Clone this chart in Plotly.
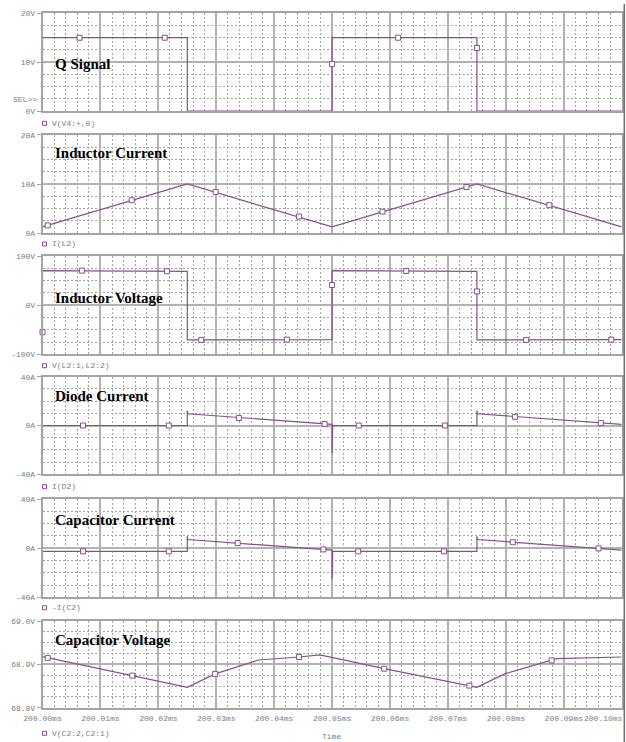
import plotly.graph_objects as go

# ---------------- waveform data (time in ms) ----------------
# Q gate signal, V(V4:+,0)
q_t = [200.000, 200.000, 200.025, 200.025, 200.050, 200.050, 200.075, 200.075, 200.100]
q_v = [6.3, 15.0, 15.0, 0.0, 0.0, 15.0, 15.0, 0.0, 0.0]
q_mark_t = [200.0064, 200.0211, 200.0500, 200.0614, 200.0750]
q_mark_v = [15.0, 15.0, 9.6, 15.0, 12.9]

# Inductor current, I(L2)
il_t = [200.000, 200.025, 200.050, 200.075, 200.100]
il_v = [1.3, 10.0, 1.3, 10.0, 1.3]
il_mark_t = [200.0009, 200.0154, 200.0299, 200.0443, 200.0587, 200.0732, 200.0875]
il_mark_v = [1.6, 6.7, 8.4, 3.4, 4.4, 9.4, 5.7]

# Inductor voltage, V(L2:1,L2:2)
vl_t = [200.000, 200.000, 200.025, 200.025, 200.050, 200.050, 200.075, 200.075, 200.100]
vl_v = [-60.0, 70.3, 68.8, -70.8, -70.2, 70.3, 68.8, -70.8, -70.2]
vl_mark_t = [200.0000, 200.0068, 200.0215, 200.0274, 200.0422, 200.0500, 200.0628,
             200.0750, 200.0835, 200.0982]
vl_mark_v = [-55.0, 70.2, 69.0, -70.7, -70.2, 41.0, 69.6, 28.0, -70.7, -70.2]

# Diode current, I(D2)
id_t = [200.000, 200.000, 200.025, 200.025, 200.0251, 200.050, 200.050, 200.0501,
        200.075, 200.075, 200.0751, 200.100]
id_v = [-22.5, 0.0, 0.0, 12.2, 9.6, 1.0, -23.0, 0.0, 0.0, 12.2, 9.6, 1.0]
id_mark_t = [200.0070, 200.0218, 200.0339, 200.0487, 200.0546, 200.0695, 200.0816, 200.0964]
id_mark_v = [0.0, 0.0, 6.2, 1.2, 0.0, 0.0, 7.1, 2.0]

# Capacitor current, -I(C2)
ic_t = [200.000, 200.000, 200.025, 200.025, 200.0251, 200.050, 200.050, 200.0501,
        200.075, 200.075, 200.0751, 200.100]
ic_v = [-25.0, -2.6, -2.6, 9.9, 7.0, -1.6, -25.0, -2.6, -2.6, 9.9, 7.0, -1.6]
ic_mark_t = [200.0070, 200.0218, 200.0337, 200.0485, 200.0545, 200.0693, 200.0812, 200.0960]
ic_mark_v = [-2.6, -2.6, 4.1, -1.0, -2.6, -2.6, 4.8, -0.2]

# Capacitor voltage, V(C2:2,C2:1)
vc_t = [200.000, 200.025, 200.0298, 200.0373, 200.0443, 200.0479, 200.0590, 200.075,
        200.0798, 200.0888, 200.100]
vc_v = [68.918, 68.847, 68.878, 68.910, 68.917, 68.922, 68.890, 68.847, 68.878, 68.913, 68.917]
vc_mark_t = [200.0009, 200.0155, 200.0298, 200.0443, 200.0590, 200.0737, 200.0879]
vc_mark_v = [68.915, 68.874, 68.878, 68.917, 68.890, 68.851, 68.909]

# time axis labels
time_ticks = [200.00, 200.01, 200.02, 200.03, 200.04, 200.05, 200.06, 200.07, 200.08, 200.09]
time_labels = ["200.00ms", "200.01ms", "200.02ms", "200.03ms", "200.04ms",
               "200.05ms", "200.06ms", "200.07ms", "200.08ms", "200.09ms"]
time_last_label = "200.10ms"

# ---------------- panel definitions ----------------
panels = [
    dict(t=q_t, v=q_v, mt=q_mark_t, mv=q_mark_v, rng=[0, 20], minor=2.5,
         tickvals=[0, 10, 20], ticktext=["0V", "10V", "20V"],
         title="Q Signal", legend="V(V4:+,0)"),
    dict(t=il_t, v=il_v, mt=il_mark_t, mv=il_mark_v, rng=[0, 20], minor=2.5,
         tickvals=[0, 10, 20], ticktext=["0A", "10A", "20A"],
         title="Inductor Current", legend="I(L2)"),
    dict(t=vl_t, v=vl_v, mt=vl_mark_t, mv=vl_mark_v, rng=[-100, 100], minor=25,
         tickvals=[-100, 0, 100], ticktext=["-100V", "0V", "100V"],
         title="Inductor Voltage", legend="V(L2:1,L2:2)"),
    dict(t=id_t, v=id_v, mt=id_mark_t, mv=id_mark_v, rng=[-40, 40], minor=10,
         tickvals=[-40, 0, 40], ticktext=["-40A", "0A", "40A"],
         title="Diode Current", legend="I(D2)"),
    dict(t=ic_t, v=ic_v, mt=ic_mark_t, mv=ic_mark_v, rng=[-40, 40], minor=10,
         tickvals=[-40, 0, 40], ticktext=["-40A", "0A", "40A"],
         title="Capacitor Current", legend="-I(C2)"),
    dict(t=vc_t, v=vc_v, mt=vc_mark_t, mv=vc_mark_v, rng=[68.8, 69.0], minor=0.025,
         tickvals=[68.8, 68.9, 69.0], ticktext=["68.8V", "68.9V", "69.0V"],
         title="Capacitor Voltage", legend="V(C2:2,C2:1)"),
]

# ---------------- page geometry (pixels) ----------------
W, H = 626, 742
PLOT_L, PLOT_R = 42.5, 621.7
# (top, bottom) of each plot frame
frames = [(13.3, 111.0), (134.7, 233.3), (256.0, 354.3),
          (376.7, 474.3), (499.0, 597.3), (621.0, 707.7)]
title_y = [63.5, 153.0, 298.0, 396.0, 520.0, 639.5]
legend_y = [123.3, 244.0, 365.7, 486.7, 607.7, 733.3]


def px_x(x):
    return x / W


def px_y(y):
    return 1 - y / H


TRACE = "#8b4d8f"
TICK_GREY = "#7c7c7c"
MAJOR = "#b2b2b2"
MINOR = "#a2a2a2"
FRAME = "#a4a4a4"
MONO = "Liberation Mono, Courier New, monospace"
SERIF = "Liberation Serif, Times New Roman, serif"

fig = go.Figure()
layout = {}
annotations = []
shapes = []

for i, p in enumerate(panels):
    n = i + 1
    xa = "x" if n == 1 else f"x{n}"
    ya = "y" if n == 1 else f"y{n}"
    xkey = "xaxis" if n == 1 else f"xaxis{n}"
    ykey = "yaxis" if n == 1 else f"yaxis{n}"
    top, bot = frames[i]

    fig.add_trace(go.Scatter(x=p["t"], y=p["v"], xaxis=xa, yaxis=ya, mode="lines",
                             line=dict(color=TRACE, width=1.2), cliponaxis=False,
                             hoverinfo="skip", showlegend=False))
    fig.add_trace(go.Scatter(x=p["mt"], y=p["mv"], xaxis=xa, yaxis=ya, mode="markers",
                             marker=dict(symbol="square", size=5, color="white",
                                         line=dict(color=TRACE, width=1)),
                             cliponaxis=False, hoverinfo="skip", showlegend=False))

    last = (i == len(panels) - 1)
    layout[xkey] = dict(
        domain=[px_x(PLOT_L), px_x(PLOT_R)], anchor=ya, automargin=False,
        range=[200.0, 200.1], tickmode="array", tickvals=time_ticks,
        ticktext=time_labels if last else [""] * len(time_ticks),
        showticklabels=last, ticks="",
        ticklabelstandoff=2,
        tickfont=dict(family=MONO, size=8, color=TICK_GREY),
        showgrid=True, gridcolor=MAJOR, gridwidth=1.6,
        minor=dict(tickmode="linear", tick0=200.0, dtick=0.002, showgrid=True,
                   gridcolor=MINOR, gridwidth=1, griddash="2px,2px", ticks=""),
        showline=True, mirror=True, linecolor=FRAME, linewidth=1.5,
        zeroline=False, fixedrange=True,
    )
    layout[ykey] = dict(
        domain=[px_y(bot), px_y(top)], anchor=xa, automargin=False,
        range=p["rng"], tickmode="array", tickvals=p["tickvals"], ticktext=p["ticktext"],
        ticks="outside", ticklen=4, tickcolor=FRAME, tickwidth=1,
        tickfont=dict(family=MONO, size=8, color=TICK_GREY),
        showgrid=True, gridcolor=MAJOR, gridwidth=1.6,
        minor=dict(tickmode="linear", tick0=p["rng"][0], dtick=p["minor"], showgrid=True,
                   gridcolor=MINOR, gridwidth=1, griddash="2px,2px", ticks=""),
        showline=True, mirror=True, linecolor=FRAME, linewidth=1.5,
        zeroline=False, fixedrange=True,
    )

    # panel heading
    annotations.append(dict(x=px_x(53), y=px_y(title_y[i]), xref="paper", yref="paper",
                            xanchor="left", yanchor="middle", showarrow=False,
                            text=f"<b>{p['title']}</b>",
                            font=dict(family=SERIF, size=15, color="#000000")))
    # trace legend entry under the frame
    annotations.append(dict(x=px_x(49.5), y=px_y(legend_y[i]), xref="paper", yref="paper",
                            xanchor="left", yanchor="middle", showarrow=False,
                            text=p["legend"],
                            font=dict(family=MONO, size=8, color=TICK_GREY)))
    ly = legend_y[i]
    shapes.append(dict(type="rect", xref="paper", yref="paper",
                       x0=px_x(42.5), x1=px_x(46.5), y0=px_y(ly + 2), y1=px_y(ly - 2),
                       line=dict(color=TRACE, width=1), fillcolor="white"))

# selection marker in the first panel
annotations.append(dict(x=px_x(39), y=px_y(99), xref="paper", yref="paper",
                        xanchor="right", yanchor="middle", showarrow=False, text="SEL>>",
                        font=dict(family=MONO, size=8, color=TICK_GREY)))
# last time label, kept inside the page
annotations.append(dict(x=px_x(625), y=px_y(718.3), xref="paper", yref="paper",
                        xanchor="right", yanchor="middle", showarrow=False,
                        text=time_last_label,
                        font=dict(family=MONO, size=8, color=TICK_GREY)))
# axis caption at the page bottom
annotations.append(dict(x=px_x(331), y=px_y(736.5), xref="paper", yref="paper",
                        xanchor="center", yanchor="middle", showarrow=False, text="Time",
                        font=dict(family=MONO, size=8, color=TICK_GREY)))
# window edge on the right
shapes.append(dict(type="line", xref="paper", yref="paper",
                   x0=px_x(624.3), x1=px_x(624.3), y0=0, y1=px_y(4),
                   line=dict(color="#6e6e6e", width=1.5)))

fig.update_layout(
    width=W, height=H,
    margin=dict(l=0, r=0, t=0, b=0, autoexpand=False),
    paper_bgcolor="white", plot_bgcolor="white",
    annotations=annotations, shapes=shapes,
    showlegend=False,
    **layout,
)

fig.write_html("out.html")
